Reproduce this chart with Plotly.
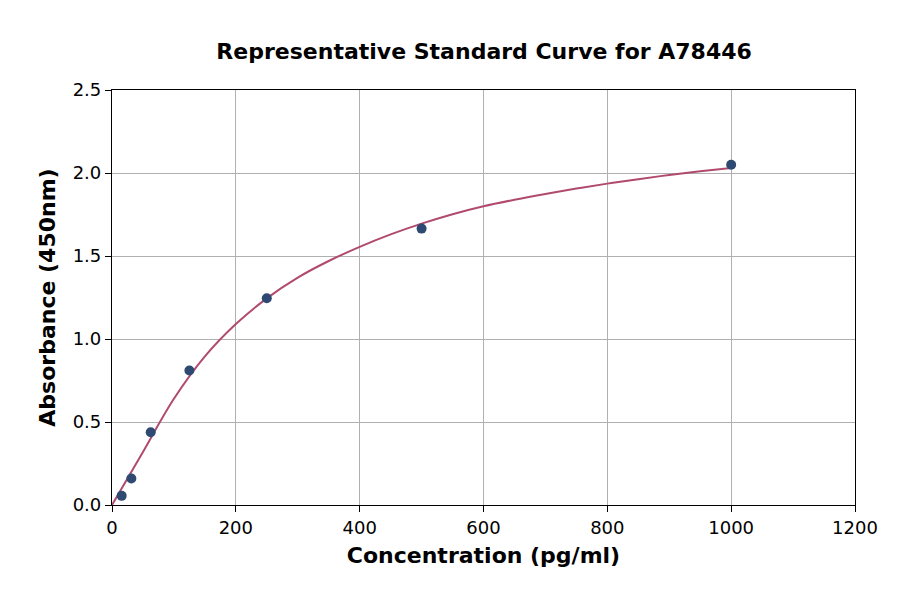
import plotly.graph_objects as go

# Standard points
conc = [15.625, 31.25, 62.5, 125, 250, 500, 1000]
absorbance = [0.055, 0.16, 0.438, 0.81, 1.245, 1.665, 2.05]

# Fitted curve, every 50 pg/ml
curve_x = [0, 50, 100, 150, 200, 250, 300, 350, 400, 450, 500, 550, 600, 650, 700, 750, 800, 850, 900, 950, 1000]
curve_y = [0.0, 0.32, 0.64, 0.895, 1.09, 1.245, 1.37, 1.47, 1.555, 1.63, 1.695, 1.752, 1.80, 1.839, 1.874, 1.906,
		   1.936, 1.963, 1.988, 2.01, 2.03]

x_ticks = [0, 200, 400, 600, 800, 1000, 1200]
y_ticks = [0.0, 0.5, 1.0, 1.5, 2.0, 2.5]

FONT = "DejaVu Sans"

fig = go.Figure()
fig.add_trace(go.Scatter(x=curve_x, y=curve_y, mode="lines", line=dict(color="#b04a6f", width=2, shape="spline"),
						 hoverinfo="skip"))
fig.add_trace(go.Scatter(x=conc, y=absorbance, mode="markers", marker=dict(color="#2e4a72", size=10)))

axis_common = dict(showgrid=True, gridcolor="#b0b0b0", gridwidth=1, showline=True, linecolor="black", linewidth=1.2,
				   mirror=True, ticks="outside", ticklen=6, tickcolor="black", zeroline=False,
				   tickfont=dict(family=FONT, size=18, color="black"))

fig.update_xaxes(range=[0, 1200], tickvals=x_ticks, ticktext=[str(v) for v in x_ticks],
				 title=dict(text="<b>Concentration (pg/ml)</b>", font=dict(family=FONT, size=22, color="black"), standoff=10),
				 **axis_common)
fig.update_yaxes(range=[0, 2.5], tickvals=y_ticks, ticktext=[f"{v:.1f}" for v in y_ticks],
				 title=dict(text="<b>Absorbance (450nm)</b>", font=dict(family=FONT, size=22, color="black"), standoff=10),
				 **axis_common)

# la page html ajoute ~8px de marge, on compense ici
fig.update_layout(width=900, height=594, showlegend=False, plot_bgcolor="white", paper_bgcolor="white",
				  margin=dict(l=104, r=53, t=82, b=97),
				  title=dict(text="<b>Representative Standard Curve for A78446</b>", x=0.529, xanchor="center",
							 y=0.9276, yanchor="middle", font=dict(family=FONT, size=22, color="black")))

fig.write_html("out.html")
